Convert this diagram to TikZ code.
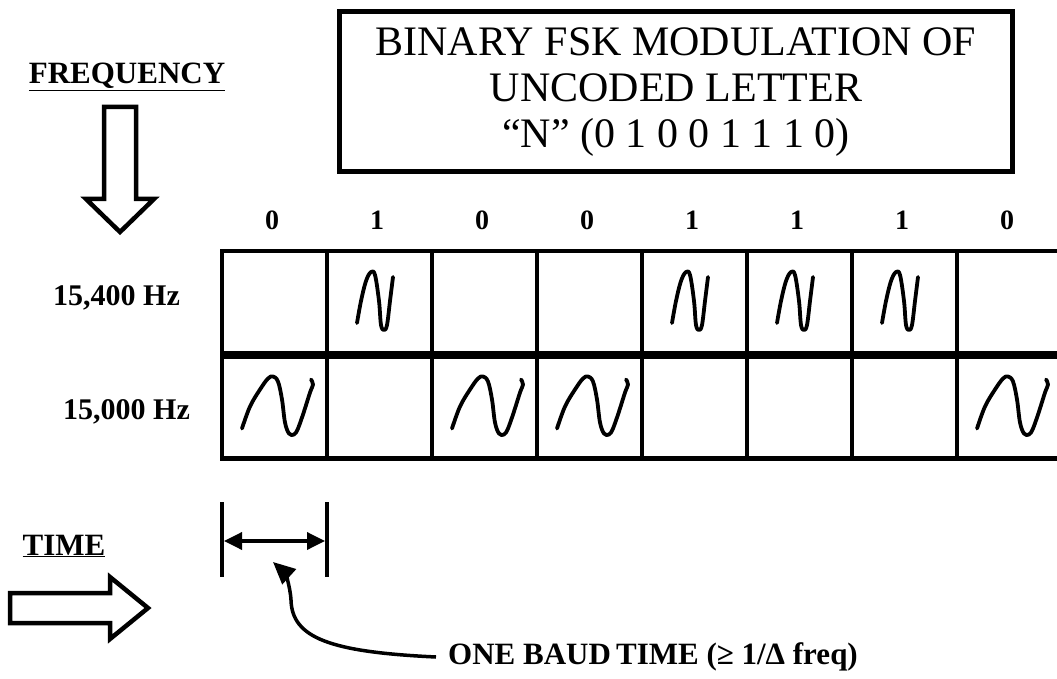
\documentclass[tikz,border=0pt]{standalone}
\usepackage{fontspec}
\setmainfont{Liberation Serif}
\usetikzlibrary{arrows.meta,positioning}
\tikzset{
  cell/.style={draw, line width=4.5pt, minimum width=105pt, minimum height=104pt, inner sep=0pt, outer sep=0pt},
  bitlabel/.style={font=\fontsize{28}{30}\selectfont\bfseries},
  freqlabel/.style={font=\fontsize{30}{34}\selectfont\bfseries, anchor=west, inner sep=0pt},
  axislabel/.style={font=\fontsize{31}{34}\selectfont\bfseries},
  titlebox/.style={draw, line width=5pt, minimum width=673pt, minimum height=160pt, align=center, font=\fontsize{42}{46}\selectfont},
  blockarrow/.style={draw, line width=4.5pt, line join=miter},
  wave/.style={line width=3.8pt, line cap=round, line join=round},
  hiwave/.pic={\draw[wave] plot[smooth, tension=0.6] coordinates {(30,72) (34,50) (39,30) (44,21) (48,24) (52,50) (54,74) (57,79) (60,74) (63,50) (66,26)};},
  lowave/.pic={\draw[wave] plot[smooth, tension=0.6] coordinates {(20,74) (28,52) (38,35) (46,24) (51,22) (56,27) (60,45) (63,68) (67,79) (72,80) (76,74) (82,57) (88,38) (91,30) (89,25)};},
  bar/.style={line width=4.5pt},
  span/.style={line width=3.5pt, {Triangle[length=18pt,width=17pt]}-{Triangle[length=18pt,width=17pt]}},
  pointer/.style={line width=3.5pt, -{Triangle[length=22pt,width=20pt]}},
}
\begin{document}
\begin{tikzpicture}[x=1pt, y=-1pt]
\useasboundingbox (0,0) rectangle (1057,679);
% title
\node[titlebox] (title) at (676,92) {BINARY FSK MODULATION OF\\UNCODED LETTER\\“N” (0 1 0 0 1 1 1 0)};
% frequency axis
\node[axislabel] (freq) at (127,77) {\underline{FREQUENCY}};
\draw[blockarrow] (104,107) -- (136,107) -- (136,199) -- (154,199) -- (120,232) -- (86,199) -- (104,199) -- cycle;
% grid of bits
\foreach \b [count=\i from 0] in {0,1,0,0,1,1,1,0} {
  \node[cell] (hi\i) at (274.5+105*\i,303) {};
  \node[cell] (lo\i) at (274.5+105*\i,406.5) {};
  \node[bitlabel] (bit\i) at (272+105*\i,220) {\b};
  \ifnum\b=1 \pic at (hi\i.north west) {hiwave}; \else \pic at (lo\i.north west) {lowave}; \fi
}
\draw[line width=8pt] (hi0.south west) -- (hi7.south east);
\node[freqlabel] (fhi) at (53,298) {15,400 Hz};
\node[freqlabel] (flo) at (63,412) {15,000 Hz};
% time axis
\node[axislabel] (time) at (64,546) {\underline{TIME}};
\draw[blockarrow] (10,593) -- (110,593) -- (110,577) -- (148,608) -- (110,639) -- (110,623) -- (10,623) -- cycle;
% one baud
\coordinate (tl) at (222,502);
\coordinate (bl) at (222,577);
\coordinate (tr) at (327,502);
\coordinate (br) at (327,577);
\coordinate (sl) at (224,541);
\coordinate (sr) at (325,541);
\draw[bar] (tl) -- (bl);
\draw[bar] (tr) -- (br);
\draw[span] (sl) -- (sr);
\node[font=\fontsize{31}{34}\selectfont\bfseries, anchor=west, inner sep=0pt] (baud) at (448,657) {ONE BAUD\,TIME (≥ 1/Δ freq)};
\coordinate (tip) at (273,562);
\draw[pointer] ([xshift=-12pt]baud.west) .. controls (330,652) and (292,638) .. (291,600) .. controls (290,584) and (284,572) .. (tip);
\end{tikzpicture}
\end{document}
